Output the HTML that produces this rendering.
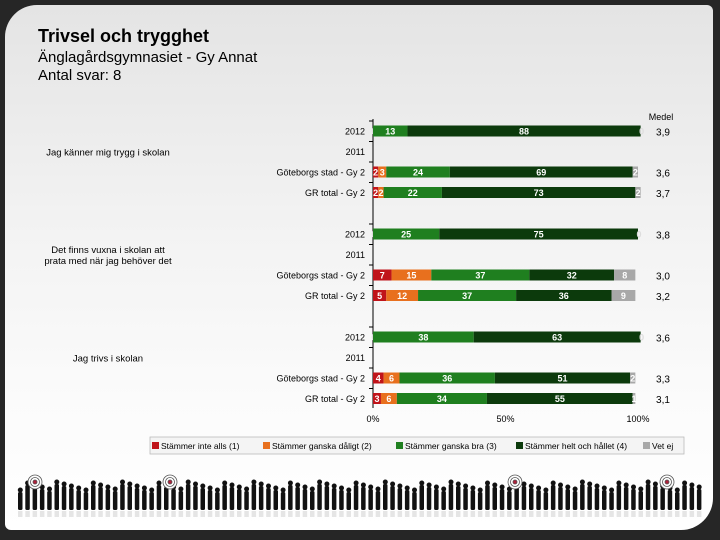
<!DOCTYPE html>
<html><head><meta charset="utf-8"><style>
html,body{margin:0;padding:0;}
body{width:720px;height:540px;background:#262626;position:relative;overflow:hidden;font-family:"Liberation Sans",sans-serif;}
#panel{position:absolute;left:5px;top:5px;width:708px;height:525px;border-radius:32px 6px 32px 6px;background:linear-gradient(#e4e4e4 0%,#f2f2f2 40%,#fbfbfb 75%,#ffffff 100%);}
.t{position:absolute;color:#000;white-space:nowrap;}
</style></head><body>
<div id="panel"></div>
<div class="t" style="left:38px;top:26px;font-size:18px;font-weight:bold;">Trivsel och trygghet</div>
<div class="t" style="left:38px;top:49px;font-size:15px;">Änglagårdsgymnasiet - Gy Annat</div>
<div class="t" style="left:38px;top:67px;font-size:15px;">Antal svar: 8</div>
<svg id="chart" width="720" height="540" style="position:absolute;left:0;top:0"></svg>
<script>
const questions=["Jag känner mig trygg i skolan","Det finns vuxna i skolan att|prata med när jag behöver det","Jag trivs i skolan"];
const rowLabels=["2012","2011","Göteborgs stad - Gy 2","GR total - Gy 2"];
const cat1=[[0,null,2,2],[0,null,7,5],[0,null,4,3]];
const cat2=[[0,null,3,2],[0,null,15,12],[0,null,6,6]];
const cat3=[[13,null,24,22],[25,null,37,37],[38,null,36,34]];
const cat4=[[88,null,69,73],[75,null,32,36],[63,null,51,55]];
const vetEj=[[0,null,2,2],[0,null,8,9],[0,null,2,1]];
const medel=[["3,9",null,"3,6","3,7"],["3,8",null,"3,0","3,2"],["3,6",null,"3,3","3,1"]];
const legendLabels=["Stämmer inte alls (1)","Stämmer ganska dåligt (2)","Stämmer ganska bra (3)","Stämmer helt och hållet (4)","Vet ej"];
const xTicks=[0,50,100];
const colors=["#c0141a","#e8701e","#1f7f1f","#0c3a0c","#a8a8a8"];
const NS="http://www.w3.org/2000/svg";
const svg=document.getElementById('chart');
const x0=373,x1=638;
const xs=v=>x0+(x1-x0)*v/100;
const rowY=(g,r)=>131+g*103+r*20.5;
const BH=11;
function mk(tag,attrs,txt){const e=document.createElementNS(NS,tag);for(const k in attrs)e.setAttribute(k,attrs[k]);if(txt!=null)e.textContent=txt;svg.appendChild(e);return e;}
let ax=mk('line',{x1:x0,y1:119,x2:x0,y2:408,stroke:'#000','stroke-width':1});


for(let g=0;g<3;g++){for(let r=0;r<4;r++){let y=rowY(g,r)-10;let tk=mk('line',{x1:x0-4,y1:y,x2:x0,y2:y,stroke:'#000'});

}}
let mh=mk('text',{x:661,y:120,'font-size':9,'text-anchor':'middle'},'Medel');


const series=[cat1,cat2,cat3,cat4,vetEj];
questions.forEach((q,g)=>{
  const lines=q.split('|');
  lines.forEach((ln,i)=>{let t=mk('text',{x:108,y:rowY(g,1)+4-(lines.length-1)*5.5+i*11,'font-size':9.5,'text-anchor':'middle'},ln);
  
  });
  rowLabels.forEach((rl,r)=>{
    const y=rowY(g,r);
    let lt=mk('text',{x:365,y:y+3.5,'font-size':9,'text-anchor':'end'},rl);
    
    
    if(cat1[g][r]==null){return;}
    let acc=0;
    series.forEach((s,k)=>{
      const v=s[g][r];const xa=xs(acc),xb=xs(acc+v);acc+=v;
      if(v>0){let b=mk('rect',{x:xa,y:y-BH/2,width:Math.max(0,xb-xa),height:BH,fill:colors[k]});
      
      }
      let lbl=mk('text',{x:v>0?(xa+xb)/2:xa+1,y:y+3.5,'font-size':9,fill:'#fff','text-anchor':'middle','font-weight':'bold'},String(v));
      
      
      if(v==0)lbl.setAttribute('fill','#ddd');
    });
    let m=mk('text',{x:663,y:y+4.5,'font-size':10,'text-anchor':'middle'},medel[g][r]);
    
    
  });
});
xTicks.forEach(v=>{let t=mk('text',{x:xs(v),y:422,'font-size':9,'text-anchor':'middle'},v+'%');

});
let lb=mk('rect',{x:150,y:437,width:534,height:17,fill:'#f4f4f4',stroke:'#bbb','stroke-width':0.8});


const lx=[152,263,396,516,643];
legendLabels.forEach((l,i)=>{
  let r=mk('rect',{x:lx[i],y:442,width:7,height:7,fill:colors[i]});
  
  
  let t=mk('text',{x:lx[i]+9,y:449,'font-size':8.5},l);
  
  
});
const fx=[];for(let x=18;x<700;x+=7.3)fx.push(x);
fx.forEach((x,i)=>{const h=18+((i*7)%9);
  let p=mk('rect',{x:x,y:510-h,width:4.5,height:h,fill:'#111',rx:1.5});
  
  
  let hd=mk('circle',{cx:x+2.3,cy:510-h-2,r:2.5,fill:'#111'});
  
  
  let rf=mk('rect',{x:x,y:511,width:4.5,height:6,fill:'#ccc',opacity:0.5});
  
  
});
[35,170,515,667].forEach(cx=>{
  [7,4.5,2].forEach((rr,j)=>{let c=mk('circle',{cx:cx,cy:482,r:rr,fill:j==2?'#b0203a':'#fff',stroke:'#555','stroke-width':0.8});
  
  });
});
</script>
</body></html>
